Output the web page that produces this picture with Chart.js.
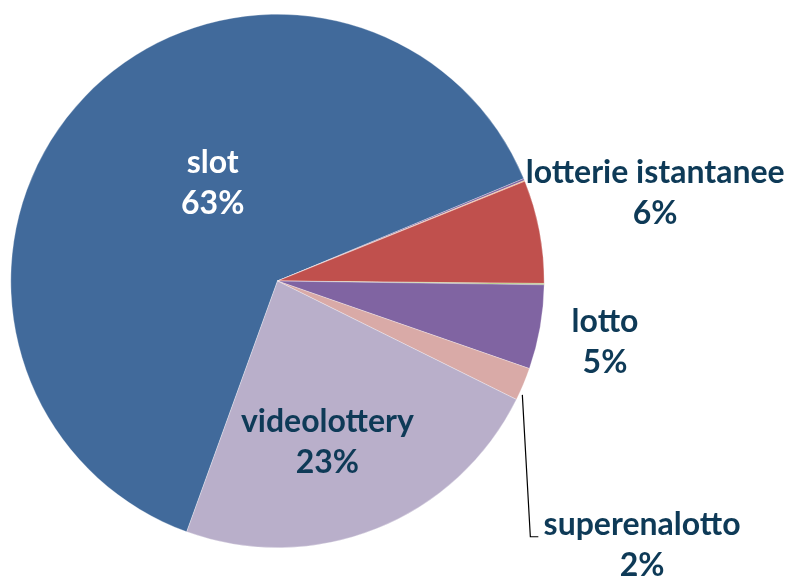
<!DOCTYPE html>
<html>
<head>
<meta charset="utf-8">
<script src="https://cdn.jsdelivr.net/npm/chart.js@4.4.0/dist/chart.umd.min.js"></script>
<style>
  body { margin: 0; background: #fff; }
  #wrap { width: 791px; height: 579px; position: relative; }
</style>
</head>
<body>
<div id="wrap"><canvas id="pieChart"></canvas></div>
<script>
// categories in drawing order (clockwise), tiny slices have no label
const categories = ['slot', 'altro 1', 'altro 2', 'lotterie istantanee', 'altro 3', 'lotto', 'superenalotto', 'videolottery'];
const shares = [63.2, 0.12, 0.05, 6.25, 0.08, 5.1, 2.0, 23.2];
const shownPct = ['63%', '', '', '6%', '', '5%', '2%', '23%'];
const colors = ['#416A9B', '#7F64A0', '#F79646', '#C0504D', '#9BBB59', '#8064A2', '#D9AAA7', '#B9AFCA'];

// label placement, in units of the pie radius from its centre
const labelPos = {
  'slot': { x: -0.243, y: -0.367, color: '#ffffff' },
  'videolottery': { x: 0.187, y: 0.603, color: '#0E3A57' },
  'lotterie istantanee': { x: 1.416, y: -0.333, color: '#0E3A57' },
  'lotto': { x: 1.228, y: 0.228, color: '#0E3A57' },
  'superenalotto': { x: 1.367, y: 0.989, color: '#0E3A57' }
};

const pieLabels = {
  id: 'pieLabels',
  afterDatasetsDraw(chart) {
    const ctx = chart.ctx;
    const arc = chart.getDatasetMeta(0).data[0];
    const cx = arc.x, cy = arc.y, r = arc.outerRadius;

    // leader line for superenalotto
    ctx.save();
    ctx.strokeStyle = '#000';
    ctx.lineWidth = 1.2;
    ctx.beginPath();
    ctx.moveTo(cx + 0.918 * r, cy + 0.427 * r);
    ctx.lineTo(cx + 0.948 * r, cy + 0.959 * r);
    ctx.lineTo(cx + 0.978 * r, cy + 0.959 * r);
    ctx.stroke();

    ctx.font = 'bold 32px Lato';
    ctx.textAlign = 'center';
    ctx.textBaseline = 'middle';
    categories.forEach((c, i) => {
      const p = labelPos[c];
      if (!p) return;
      const x = cx + p.x * r, y = cy + p.y * r;
      ctx.fillStyle = p.color;
      ctx.fillText(c, x, y - 20);
      ctx.fillText(shownPct[i], x, y + 21);
    });
    ctx.restore();
  }
};

new Chart(document.getElementById('pieChart'), {
  type: 'pie',
  data: {
    labels: categories,
    datasets: [{
      data: shares,
      backgroundColor: colors,
      borderColor: 'rgba(255,255,255,0.5)',
      borderWidth: 0.6
    }]
  },
  options: {
    responsive: true,
    maintainAspectRatio: false,
    animation: false,
    rotation: 199.9,
    layout: { padding: { left: 10, right: 246, top: 14, bottom: 31 } },
    plugins: {
      legend: { display: false },
      tooltip: { enabled: false }
    }
  },
  plugins: [pieLabels]
});
</script>
</body>
</html>
